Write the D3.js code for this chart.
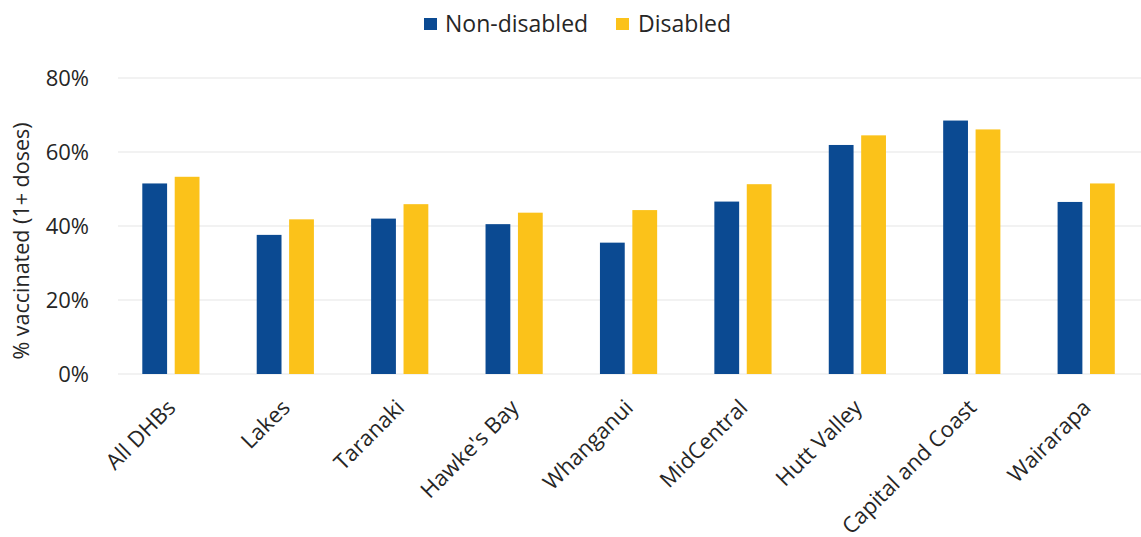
<!DOCTYPE html>
<html>
<head>
<meta charset="utf-8">
<script src="https://cdn.jsdelivr.net/npm/d3@7"></script>
<style>
  html, body { margin: 0; padding: 0; background: #fff; }
  svg { display: block; }
  text { font-family: "Open Sans", sans-serif; fill: #262626; }
</style>
</head>
<body>
<svg id="chart" width="1141" height="537"></svg>
<script>
// District health boards and vaccination share (% with 1+ doses)
const categories = ["All DHBs", "Lakes", "Taranaki", "Hawke's Bay", "Whanganui",
                    "MidCentral", "Hutt Valley", "Capital and Coast", "Wairarapa"];
const seriesNames = ["Non-disabled", "Disabled"];
const nonDisabled = [51.5, 37.6, 42.0, 40.5, 35.5, 46.6, 61.9, 68.5, 46.5];
const disabled    = [53.3, 41.8, 45.9, 43.6, 44.3, 51.3, 64.5, 66.1, 51.5];
const yTicks = [0, 20, 40, 60, 80];
const colors = ["#0b4a92", "#fbc21a"];

const svg = d3.select("#chart");
const W = 1141, H = 537;
const FONT = "'Open Sans', sans-serif";

const x0 = d3.scaleBand().domain(categories).range([113.7, 1143.4]).padding(0);
const x1 = d3.scaleBand().domain(seriesNames).range([28.6, 85.8]).paddingInner(0.235).paddingOuter(0);
const y = d3.scaleLinear().domain([0, 80]).range([374, 78]);
const color = d3.scaleOrdinal().domain(seriesNames).range(colors);

// gridlines
svg.append("g")
  .selectAll("line")
  .data(yTicks)
  .join("line")
  .attr("x1", 118).attr("x2", W)
  .attr("y1", d => y(d)).attr("y2", d => y(d))
  .attr("stroke", "#e6e6e6").attr("stroke-width", 1.2);

// y axis labels
const yAxis = d3.axisLeft(y).tickValues(yTicks).tickFormat(d => d + "%").tickSize(0).tickPadding(0);
const yg = svg.append("g").attr("transform", "translate(89,0)").call(yAxis);
yg.select(".domain").remove();
yg.selectAll("text").attr("font-size", 22).attr("font-family", FONT).attr("fill", "#262626");

// y axis title
svg.append("text")
  .attr("transform", "translate(29,241) rotate(-90)")
  .attr("text-anchor", "middle")
  .attr("font-size", 21.5)
  .text("% vaccinated (1+ doses)");

// bars
const rows = categories.map((c, i) => ({ cat: c, vals: [nonDisabled[i], disabled[i]] }));
const groups = svg.append("g").selectAll("g")
  .data(rows)
  .join("g")
  .attr("transform", d => `translate(${x0(d.cat)},0)`);
groups.selectAll("rect")
  .data(d => seriesNames.map((s, j) => ({ s, v: d.vals[j] })))
  .join("rect")
  .attr("x", d => x1(d.s))
  .attr("width", x1.bandwidth())
  .attr("y", d => y(d.v))
  .attr("height", d => y(0) - y(d.v))
  .attr("fill", d => color(d.s));

// x axis labels, rotated 45 degrees
const xAxis = d3.axisBottom(x0).tickSize(0).tickPadding(0);
const xg = svg.append("g").attr("transform", "translate(0,374)").call(xAxis);
xg.select(".domain").remove();
xg.selectAll("text")
  .attr("font-size", 22)
  .attr("font-family", FONT)
  .attr("fill", "#262626")
  .attr("text-anchor", "end")
  .attr("dy", "0")
  .attr("transform", "translate(6,35) rotate(-45)");

// legend
const legend = svg.append("g");
const legendItems = [
  { name: seriesNames[0], sx: 424, tx: 445 },
  { name: seriesNames[1], sx: 616, tx: 638 }
];
legend.selectAll("rect")
  .data(legendItems)
  .join("rect")
  .attr("x", d => d.sx).attr("y", 18)
  .attr("width", 13).attr("height", 12)
  .attr("fill", d => color(d.name));
legend.selectAll("text")
  .data(legendItems)
  .join("text")
  .attr("x", d => d.tx).attr("y", 32)
  .attr("font-size", 23)
  .text(d => d.name);
</script>
</body>
</html>
